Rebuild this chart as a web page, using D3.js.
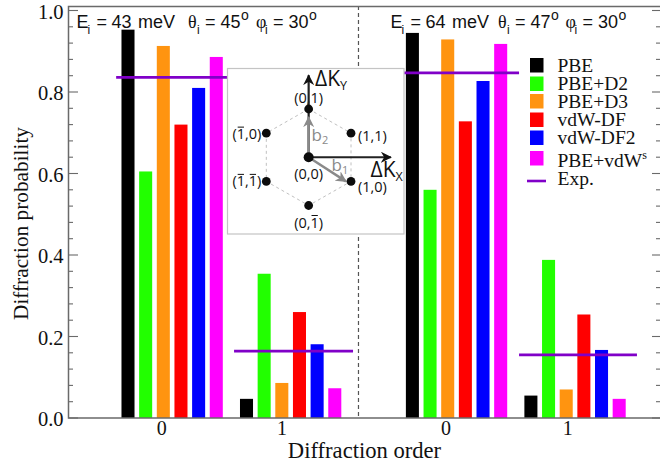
<!DOCTYPE html>
<html lang="en">
<head>
    <meta charset="utf-8">
    <style>
        body { margin: 0; background: #fff; overflow: hidden; }
        svg { display: block; }
        text { font-family: "Liberation Serif", serif; fill: #111; }
        .head text { font-family: "Liberation Sans", sans-serif; }
        .head text.greek { font-family: "Liberation Serif", serif; }
        .inset text { font-family: "Open Sans", sans-serif; }
    </style>
    <script src="https://d3js.org/d3.v7.min.js"></script>
</head>
<body>
<svg id="chart" width="660" height="465"></svg>
<script>
    // values
    const methods = ["PBE", "PBE+D2", "PBE+D3", "vdW-DF", "vdW-DF2", "PBE+vdW"];
    const colors = ["#000000", "#22ff00", "#ff9410", "#ff0000", "#0000ff", "#ff00ff"];
    const leftOrder0 = [0.953, 0.605, 0.913, 0.72, 0.81, 0.886];
    const leftOrder1 = [0.047, 0.354, 0.086, 0.26, 0.181, 0.073];
    const rightOrder0 = [0.945, 0.56, 0.929, 0.728, 0.827, 0.918];
    const rightOrder1 = [0.055, 0.388, 0.07, 0.254, 0.167, 0.047];
    const groupValues = [leftOrder0, leftOrder1, rightOrder0, rightOrder1];
    const expValues = [0.836, 0.164, 0.847, 0.155];
    const expStart = [-0.1, 0.895, 2.33, 3.3];
    const expEnd = [0.844, 1.899, 3.3, 4.295];
    const yTicks = [0, 0.2, 0.4, 0.6, 0.8, 1.0];
    const yMinor = d3.range(0, 51, 2).map(d => d / 50).filter(d => !yTicks.includes(d));
    const orderLabels = ["0", "1", "0", "1"];

    // x axis runs in "group" units, bars of a group start at these
    const groupStart = [0, 1, 2.4, 3.4];
    const orderTickAt = [0.284, 1.3, 2.684, 3.71];
    const dividerAt = 1.945;

    const svg = d3.select("#chart");
    const x = d3.scaleLinear().domain([-0.5, 4.5]).range([68.75, 661.25]);
    const y = d3.scaleLinear().domain([0, 1]).range([418, 10.5]);
    const slot = d3.scaleLinear().domain([0, 5]).range([0, 0.745]);
    const barW = 0.11;

    groupValues.forEach(function(vals, g) {
        svg.append("g").selectAll("rect")
            .data(vals)
            .join("rect")
            .attr("x", (d, i) => x(groupStart[g] + slot(i) - barW / 2))
            .attr("width", x(barW) - x(0))
            .attr("y", d => y(d))
            .attr("height", d => y(0) - y(d))
            .attr("fill", (d, i) => colors[i]);
    });

    // dashed divider goes under the inset
    svg.append("line").attr("x1", x(dividerAt)).attr("x2", x(dividerAt)).attr("y1", 6).attr("y2", 418)
        .attr("stroke", "#555").attr("stroke-width", 1.2).attr("stroke-dasharray", "4,3");

    // experiment lines
    svg.append("g").selectAll("line")
        .data(expValues)
        .join("line")
        .attr("x1", (d, i) => x(expStart[i]))
        .attr("x2", (d, i) => x(expEnd[i]))
        .attr("y1", d => y(d))
        .attr("y2", d => y(d))
        .attr("stroke", "#8000c8")
        .attr("stroke-width", 2.6);

    // frame, the right side falls off the picture
    const frame = "#6a6a6a";
    svg.append("path").attr("d", "M661,6.5H68.5V418H661").attr("fill", "none")
        .attr("stroke", frame).attr("stroke-width", 1.5);

    const axisL = svg.append("g").attr("transform", "translate(68.5,0)")
        .call(d3.axisLeft(y).tickValues(yTicks).tickFormat(d3.format(".1f")).tickSize(0).tickPadding(5));
    axisL.select(".domain").remove();
    axisL.selectAll("text").attr("dy", "0.37em").style("font-size", "20.5px")
        .style("font-family", "Liberation Serif").attr("fill", "#111");

    function ticks(vals, x1, x2) {
        svg.append("g").selectAll("line").data(vals).join("line")
            .attr("x1", x1).attr("x2", x2)
            .attr("y1", d => y(d)).attr("y2", d => y(d))
            .attr("stroke", frame).attr("stroke-width", 1.1);
    }
    ticks(yMinor, 68.5, 73);
    ticks(yTicks, 68.5, 78);
    ticks(yMinor, 660, 656);
    ticks(yTicks, 660, 652);

    svg.append("g").selectAll("text").data(orderLabels).join("text")
        .attr("x", (d, i) => x(orderTickAt[i])).attr("y", 435)
        .attr("text-anchor", "middle").style("font-size", "20px").text(d => d);

    svg.append("text").attr("x", 364.5).attr("y", 458).attr("text-anchor", "middle")
        .style("font-size", "22.6px").text("Diffraction order");
    svg.append("text").attr("transform", "translate(28,223.5) rotate(-90)").attr("text-anchor", "middle")
        .style("font-size", "21.3px").text("Diffraction probability");

    // header text over each half, pieces placed one by one for the wide gaps
    const head = svg.append("g").attr("class", "head");
    function headerPart(px, str, cls) {
        head.append("text").attr("x", px).attr("y", 28).attr("class", cls || null)
            .style("font-size", "18px").text(str);
    }
    function small(px, py, str, size) {
        head.append("text").attr("x", px).attr("y", py).style("font-size", size + "px").text(str);
    }
    function angle(x0, symbol, value) {
        headerPart(x0, symbol, "greek");
        small(x0 + 9, 34, "i", 12);
        headerPart(x0 + 17, "=");
        headerPart(x0 + 32.5, value);
        small(x0 + 53, 20, "o", 14);
    }
    function header(x0, energy, theta, phi, thetaX, phiX) {
        headerPart(x0, "E");
        small(x0 + 11, 34, "i", 12);
        headerPart(x0 + 20, "=");
        headerPart(x0 + 35, energy);
        headerPart(x0 + 61.5, "meV");
        angle(thetaX, "\u03b8", theta);
        angle(phiX, "\u03c6", phi);
    }
    header(76.5, "43", "45", "30", 188, 256);
    header(390.5, "64", "47", "30", 498, 565.5);

    // legend
    const legendBarY = [58, 76.5, 94, 112.5, 130.5, 151];
    const legendTextY = [71.5, 89.5, 107.5, 126, 144, 166.5];
    const legend = svg.append("g");
    legend.selectAll("rect").data(methods).join("rect")
        .attr("x", 530).attr("width", 13.5).attr("height", 14.5)
        .attr("y", (d, i) => legendBarY[i]).attr("fill", (d, i) => colors[i]);
    const legendText = legend.selectAll("text").data(methods).join("text")
        .attr("x", 557.5).attr("y", (d, i) => legendTextY[i])
        .style("font-size", "19.5px").text(d => d);
    legendText.filter((d, i) => i === 5).append("tspan")
        .attr("dy", -8).style("font-size", "12px").text("s");
    legend.append("line").attr("x1", 527).attr("x2", 546).attr("y1", 181).attr("y2", 181)
        .attr("stroke", "#8000c8").attr("stroke-width", 2.6);
    legend.append("text").attr("x", 557.5).attr("y", 184.5).style("font-size", "19.5px").text("Exp.");

    // inset with the lattice sketch
    const inset = svg.append("g").attr("class", "inset");
    inset.append("rect").attr("x", 227.5).attr("y", 68.5).attr("width", 176.5).attr("height", 165.5)
        .attr("fill", "#fff").attr("stroke", "#c4c4c4").attr("stroke-width", 1.2);

    const ix = d3.scaleLinear().domain([-1, 1]).range([266.3, 351]);
    const iy = d3.scaleLinear().domain([-1, 1]).range([205.5, 109]);

    const hexX = [0, 1, 1, 0, -1, -1];
    const hexY = [1, 0.5, -0.5, -1, -0.5, 0.5];
    inset.append("path")
        .attr("d", d3.line().x(d => ix(hexX[d])).y(d => iy(hexY[d])).curve(d3.curveLinearClosed)(d3.range(6)))
        .attr("fill", "none").attr("stroke", "#c0c0c0").attr("stroke-width", 1).attr("stroke-dasharray", "3,3");

    const defs = svg.append("defs");
    function arrowHead(id, color) {
        defs.append("marker").attr("id", id).attr("viewBox", "0 0 10 10")
            .attr("refX", 9).attr("refY", 5).attr("orient", "auto")
            .attr("markerUnits", "userSpaceOnUse").attr("markerWidth", 11).attr("markerHeight", 11)
            .append("path").attr("d", "M0,0L10,5L0,10L3,5Z").attr("fill", color);
    }
    arrowHead("headBlack", "#111");
    arrowHead("headGray", "#8a8a8a");

    // lattice labels, barred lists the characters that get a bar on top
    function latticeLabel(px, py, anchor, str, barred) {
        const t = inset.append("text").attr("x", px).attr("y", py).attr("text-anchor", anchor)
            .style("font-size", "14.5px").text(str);
        (barred || []).forEach(function(c) {
            const box = t.node().getExtentOfChar(c);
            inset.append("line")
                .attr("x1", box.x + 1).attr("x2", box.x + box.width - 1)
                .attr("y1", py - 12).attr("y2", py - 12)
                .attr("stroke", "#111").attr("stroke-width", 1);
        });
    }
    latticeLabel(ix(0), iy(1) - 6.5, "middle", "(0,1)");
    latticeLabel(ix(1) + 7, iy(0.5) + 7.5, "start", "(1,1)");
    latticeLabel(ix(1) + 7, iy(-0.5) + 11, "start", "(1,0)");
    latticeLabel(ix(0), iy(-1) + 22, "middle", "(0,1)", [3]);
    latticeLabel(ix(-1) - 5, iy(-0.5) + 5, "end", "(1,1)", [1, 3]);
    latticeLabel(ix(-1) - 5, iy(0.5) + 6, "end", "(1,0)", [1]);
    latticeLabel(ix(0), iy(0) + 22, "middle", "(0,0)");

    // reciprocal vectors
    function arrow(k1, k2, color, head, w) {
        inset.append("line")
            .attr("x1", ix(0)).attr("y1", iy(0))
            .attr("x2", ix(k1)).attr("y2", iy(k2))
            .attr("stroke", color).attr("stroke-width", w)
            .attr("marker-end", "url(#" + head + ")");
    }
    arrow(1.94, 0, "#222", "headBlack", 2.2);
    arrow(0, 1.7, "#222", "headBlack", 2.2);
    arrow(0, 0.83, "#8a8a8a", "headGray", 2.4);
    arrow(0.88, -0.5, "#8a8a8a", "headGray", 2.4);

    const latticeX = [0, 1, 1, 0, -1, -1, 0];
    const latticeY = [1, 0.5, -0.5, -1, -0.5, 0.5, 0];
    inset.append("g").selectAll("circle").data(latticeX).join("circle")
        .attr("cx", d => ix(d)).attr("cy", (d, i) => iy(latticeY[i]))
        .attr("r", (d, i) => i === 6 ? 5 : 4.4).attr("fill", "#0c0c0c");

    // vector names
    function vectorName(px, py, main, sub, size, subSize, color) {
        const t = inset.append("text").attr("x", px).attr("y", py)
            .style("font-size", size + "px").style("fill", color).text(main);
        t.append("tspan").attr("dy", size * 0.2).style("font-size", subSize + "px")
            .style("fill", color).text(sub);
    }
    vectorName(315, 86, "\u0394K", "Y", 21, 12.5, "#111");
    vectorName(370.5, 177, "\u0394K", "X", 21, 12.5, "#111");
    vectorName(311.5, 141, "b", "2", 17, 11, "#8a8a8a");
    vectorName(331.5, 171, "b", "1", 17, 11, "#8a8a8a");
</script>
</body>
</html>
